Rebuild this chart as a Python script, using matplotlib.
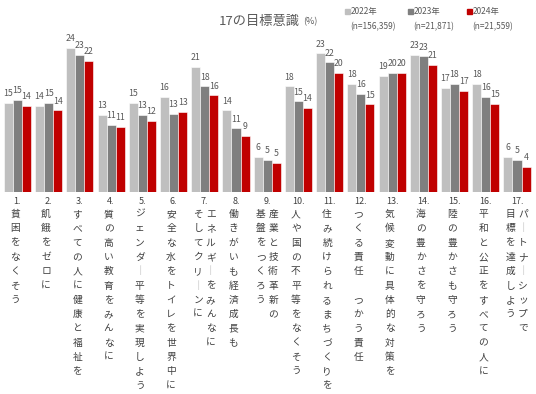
import matplotlib
matplotlib.use("Agg")
import matplotlib.pyplot as plt
import matplotlib.transforms as mtransforms
from matplotlib.patches import Rectangle
import numpy as np

plt.rcParams['font.family'] = ['Noto Sans CJK JP', 'DejaVu Sans']

# data (%)
goal_numbers = ["1.", "2.", "3.", "4.", "5.", "6.", "7.", "8.", "9.", "10.",
                "11.", "12.", "13.", "14.", "15.", "16.", "17."]
# each goal label: list of columns, right column first
goal_labels = [
    ["貧困をなくそう"],
    ["飢餓をゼロに"],
    ["すべての人に健康と福祉を"],
    ["質の高い教育をみんなに"],
    ["ジェンダー平等を実現しよう"],
    ["安全な水をトイレを世界中に"],
    ["エネルギーをみんなに", "そしてクリーンに"],
    ["働きがいも経済成長も"],
    ["産業と技術革新の", "基盤をつくろう"],
    ["人や国の不平等をなくそう"],
    ["住み続けられるまちづくりを"],
    ["つくる責任　つかう責任"],
    ["気候変動に具体的な対策を"],
    ["海の豊かさを守ろう"],
    ["陸の豊かさも守ろう"],
    ["平和と公正をすべての人に"],
    ["パートナーシップで", "目標を達成しよう"],
]
series_names = ["2022年", "2023年", "2024年"]
series_n = ["(n=156,359)", "(n=21,871)", "(n=21,559)"]
values_2022 = [14.9, 14.3, 24.0, 12.8, 14.8, 15.8, 20.9, 13.6, 5.9, 17.6,
               23.1, 18.0, 19.3, 22.8, 17.3, 18.0, 5.8]
values_2023 = [15.3, 14.8, 22.9, 11.2, 12.8, 13.0, 17.6, 10.6, 5.3, 15.1,
               21.6, 16.3, 19.9, 22.6, 18.0, 15.9, 5.4]
values_2024 = [14.3, 13.6, 21.8, 10.9, 11.9, 13.3, 16.1, 9.3, 4.8, 14.0,
               19.8, 14.6, 19.9, 21.2, 16.9, 14.7, 4.2]
colors = ["#BFBFBF", "#7F7F7F", "#C00000"]

W, H = 536, 394
fig = plt.figure(figsize=(W / 100, H / 100), dpi=100)
ax = fig.add_axes([1.8 / W, (H - 192) / H, 530.8 / W, 180 / H])

x = np.arange(len(goal_numbers))
width = 0.29
all_values = [values_2022, values_2023, values_2024]
for k, vals in enumerate(all_values):
    xs = x + (k - 1) * width
    ax.bar(xs, vals, width, color=colors[k], edgecolor="white", linewidth=0.4)
    for xi, v in zip(xs, vals):
        ax.annotate(f"{v:.0f}", (xi, v), xytext=(0, 3.5), textcoords="offset points",
                    ha="center", va="bottom", fontsize=6.3, color="#595959")

ax.set_xlim(-0.5, len(goal_numbers) - 0.5)
ax.set_ylim(0, 30)
ax.axis("off")

# labels under the bars, written top to bottom
trans = mtransforms.blended_transform_factory(ax.transData, fig.transFigure)
row_step = 14.3
for i, (num, cols) in enumerate(zip(goal_numbers, goal_labels)):
    ax.text(i, 1 - 201 / H, num, transform=trans, ha="center", va="center",
            fontsize=6.5, color="#404040")
    if len(cols) == 1:
        offsets = [-0.08]
    else:
        offsets = [0.19, -0.21]
    for col, off in zip(cols, offsets):
        for j, ch in enumerate(col):
            if ch == "ー":
                ch = "｜"
                c = "#A6A6A6"
            else:
                c = "#404040"
            ax.text(i + off, 1 - (214 + j * row_step) / H, ch, transform=trans,
                    ha="center", va="center", fontsize=7, color=c)

# title
fig.text(300 / W, 1 - 21 / H, "17の目標意識", ha="right", va="center",
         fontsize=9.5, color="#595959")
fig.text(303 / W, 1 - 22 / H, "(%)", ha="left", va="center",
         fontsize=6.5, color="#595959")

# legend
leg_x = [345, 408, 467]
for k in range(3):
    fig.patches.append(Rectangle((leg_x[k] / W, 1 - 14 / H), 5 / W, 5 / H,
                                 transform=fig.transFigure, color=colors[k]))
    fig.text((leg_x[k] + 6) / W, 1 - 11.5 / H, series_names[k], ha="left",
             va="center", fontsize=6, color="#595959")
    fig.text((leg_x[k] + 5) / W, 1 - 26.5 / H, series_n[k], ha="left",
             va="center", fontsize=6, color="#595959")

fig.savefig("out.png", dpi=100)
